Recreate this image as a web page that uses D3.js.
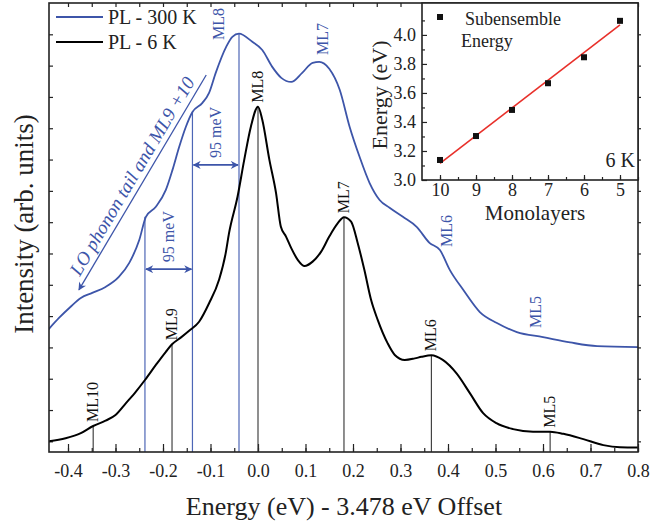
<!DOCTYPE html>
<html>
<head>
<meta charset="utf-8">
<script src="https://cdn.jsdelivr.net/npm/d3@7"></script>
<style>
  body { margin: 0; background: #fff; }
  svg { font-family: "Liberation Serif", "Times New Roman", serif; }
</style>
</head>
<body>
<div id="chart"></div>
<script>
// ---- data ----
var energy300 = [-0.442,-0.419,-0.395,-0.373,-0.349,-0.321,-0.293,-0.271,-0.250,-0.236,-0.215,-0.194,-0.180,-0.166,-0.152,-0.138,-0.117,-0.103,-0.089,-0.067,-0.054,-0.040,-0.012,0.009,0.030,0.049,0.070,0.093,0.115,0.129,0.150,0.172,0.193,0.214,0.235,0.256,0.277,0.305,0.334,0.361,0.383,0.404,0.432,0.467,0.503,0.545,0.600,0.657,0.714,0.800];
var pl300 = [3.56,3.94,4.29,4.58,4.74,4.93,5.25,5.70,6.43,7.17,7.49,8.03,8.67,9.40,10.04,10.52,10.81,11.13,11.77,12.60,12.92,13.02,12.76,12.50,11.96,11.61,11.48,11.77,12.09,12.12,11.90,11.23,10.04,9.08,8.25,7.71,7.46,7.17,6.85,6.34,6.11,5.47,4.84,4.13,3.78,3.49,3.33,3.16,3.04,3.01];

var energy6 = [-0.442,-0.405,-0.373,-0.347,-0.321,-0.300,-0.278,-0.257,-0.238,-0.215,-0.194,-0.181,-0.162,-0.145,-0.124,-0.103,-0.082,-0.068,-0.061,-0.043,-0.029,-0.015,0.000,0.009,0.024,0.038,0.048,0.059,0.070,0.084,0.098,0.115,0.133,0.150,0.168,0.181,0.196,0.210,0.224,0.238,0.252,0.273,0.288,0.309,0.330,0.344,0.365,0.389,0.418,0.446,0.474,0.502,0.537,0.579,0.615,0.643,0.685,0.727,0.762,0.800];
var pl6 = [0.00,0.10,0.26,0.49,0.66,0.84,1.22,1.59,1.96,2.44,2.86,3.10,3.32,3.53,3.82,4.41,5.16,6.01,6.65,7.82,8.99,10.05,10.69,10.27,8.99,7.93,6.86,6.54,6.17,5.79,5.60,5.74,6.06,6.54,6.97,7.16,7.02,6.33,5.47,4.52,3.88,3.13,2.76,2.60,2.65,2.70,2.75,2.60,2.17,1.54,0.90,0.58,0.39,0.31,0.31,0.24,0.07,-0.12,-0.19,-0.20];

// subensemble markers on the 6 K spectrum
var mlNames6 = ["ML10", "ML9", "ML8", "ML7", "ML6", "ML5"];
var mlEnergy6 = [-0.347, -0.181, 0.000, 0.181, 0.365, 0.615];
var mlPeak6 = [0.49, 3.10, 10.69, 7.16, 2.75, 0.31];

// labels on the 300 K spectrum
var mlNames300 = ["ML8", "ML7", "ML6", "ML5"];
var mlEnergy300 = [-0.082, 0.137, 0.398, 0.586];
var mlLevel300 = [12.82, 12.34, 6.21, 3.62];

// LO phonon replicas (300 K)
var loEnergy = [-0.238, -0.138, -0.040];
var loPeak = [7.17, 10.52, 13.02];
var loArrowLevel = [5.50, 8.83];
var loSpacingLabel = "95 meV";
var loTailLine = [[-0.109, 11.70], [-0.377, 4.84]];
var loTailLabel = "LO phonon tail and ML9 +10";

var xTicks = [-0.4,-0.3,-0.2,-0.1,0.0,0.1,0.2,0.3,0.4,0.5,0.6,0.7,0.8];
var yTicks = [0,1,2,3,4,5,6,7,8,9,10,11,12,13];

// inset
var monolayers = [10, 9, 8, 7, 6, 5];
var subEnergy = [3.138, 3.303, 3.483, 3.667, 3.846, 4.097];
var fitEnds = [[10, 3.115], [5, 4.07]];
var insetYTicks = [3.0, 3.2, 3.4, 3.6, 3.8, 4.0];

// ---- layout ----
var svgWidth = 657, svgHeight = 527;
var pLeft = 49, pRight = 638, pTop = 3, pBottom = 452;
var blue = "#3d55a9";
var blueThin = "#4d66b6";

var svg = d3.select("#chart").append("svg")
    .attr("width", svgWidth)
    .attr("height", svgHeight);

var defs = svg.append("defs");
defs.append("clipPath").attr("id", "clip")
  .append("rect").attr("x", pLeft).attr("y", pTop)
  .attr("width", pRight - pLeft).attr("height", pBottom - pTop);

defs.append("marker")
    .attr("id", "ahead")
    .attr("viewBox", "0 0 10 10")
    .attr("refX", 9).attr("refY", 5)
    .attr("markerWidth", 10).attr("markerHeight", 8)
    .attr("markerUnits", "userSpaceOnUse")
    .attr("orient", "auto-start-reverse")
  .append("path")
    .attr("d", "M0,0 L10,5 L0,10 L3,5 Z")
    .attr("fill", blue);

var x = d3.scaleLinear().domain([-0.44, 0.8]).range([pLeft, pRight]);
var y = d3.scaleLinear().domain([-0.34, 14]).range([pBottom, pTop]);

// axes (ticks inward, labels only on bottom)
var minorX = d3.range(-0.45, 0.81, 0.05).map(d => +d.toFixed(2)).filter(d => d >= -0.44);

svg.append("g")
    .attr("transform", `translate(0, ${pBottom})`)
    .call(d3.axisBottom(x).tickValues(minorX).tickSizeInner(-4).tickSizeOuter(0).tickFormat(""))
    .call(g => g.select(".domain").remove());

svg.append("g")
    .attr("transform", `translate(0, ${pBottom})`)
    .call(d3.axisBottom(x).tickValues(xTicks).tickSizeInner(-8).tickSizeOuter(0)
        .tickPadding(12).tickFormat(d => d.toFixed(1)))
    .call(g => g.select(".domain").remove())
    .selectAll("text")
    .attr("font-size", "18px")
    .attr("font-family", "Liberation Serif")
    .attr("fill", "#222");

svg.append("g")
    .attr("transform", `translate(0, ${pTop})`)
    .call(d3.axisTop(x).tickValues(minorX).tickSizeInner(-4).tickSizeOuter(0).tickFormat(""))
    .call(g => g.select(".domain").remove());

svg.append("g")
    .attr("transform", `translate(${pLeft}, 0)`)
    .call(d3.axisLeft(y).tickValues(yTicks).tickSizeInner(-4).tickSizeOuter(0).tickFormat(""))
    .call(g => g.select(".domain").remove());

svg.append("g")
    .attr("transform", `translate(${pRight}, 0)`)
    .call(d3.axisRight(y).tickValues(yTicks).tickSizeInner(3).tickSizeOuter(0).tickFormat(""))
    .call(g => g.select(".domain").remove());

svg.selectAll(".tick line").attr("stroke", "#222").attr("stroke-width", 1.2);

// axis titles
svg.append("text")
    .attr("x", 344).attr("y", 515)
    .attr("text-anchor", "middle")
    .attr("font-size", "26px")
    .attr("fill", "#222")
    .text("Energy (eV) - 3.478 eV Offset");

svg.append("text")
    .attr("transform", "translate(33, 224) rotate(-90)")
    .attr("text-anchor", "middle")
    .attr("font-size", "27px")
    .attr("fill", "#222")
    .text("Intensity (arb. units)");

var plot = svg.append("g").attr("clip-path", "url(#clip)");

// LO replica vertical lines
plot.selectAll(".lo")
    .data(loEnergy)
    .enter().append("line")
    .attr("x1", d => x(d)).attr("x2", d => x(d))
    .attr("y1", pBottom).attr("y2", (d, i) => y(loPeak[i]))
    .attr("stroke", blueThin).attr("stroke-width", 1.2);

// 6 K marker lines
plot.selectAll(".ml6")
    .data(mlEnergy6)
    .enter().append("line")
    .attr("x1", d => x(d)).attr("x2", d => x(d))
    .attr("y1", pBottom).attr("y2", (d, i) => y(mlPeak6[i]))
    .attr("stroke", "#333").attr("stroke-width", 1.1);

var line = d3.line()
    .x(d => x(d[0]))
    .y(d => y(d[1]))
    .curve(d3.curveMonotoneX);

plot.append("path")
    .datum(d3.zip(energy300, pl300))
    .attr("d", line)
    .attr("fill", "none")
    .attr("stroke", blue)
    .attr("stroke-width", 1.8);

plot.append("path")
    .datum(d3.zip(energy6, pl6))
    .attr("d", line)
    .attr("fill", "none")
    .attr("stroke", "#000")
    .attr("stroke-width", 2);

// 95 meV double arrows
loArrowLevel.forEach(function(lv, i) {
    svg.append("line")
        .attr("x1", x(loEnergy[i]) + 1).attr("x2", x(loEnergy[i + 1]) - 1)
        .attr("y1", y(lv)).attr("y2", y(lv))
        .attr("stroke", blue).attr("stroke-width", 1.6)
        .attr("marker-start", "url(#ahead)")
        .attr("marker-end", "url(#ahead)");
    var cx = (x(loEnergy[i]) + x(loEnergy[i + 1])) / 2 + 5;
    svg.append("text")
        .attr("transform", `translate(${cx}, ${y(lv) - 7}) rotate(-90)`)
        .attr("font-size", "16px")
        .attr("fill", blue)
        .text(loSpacingLabel);
});

// LO phonon tail arrow + label
svg.append("line")
    .attr("x1", x(loTailLine[0][0])).attr("y1", y(loTailLine[0][1]))
    .attr("x2", x(loTailLine[1][0])).attr("y2", y(loTailLine[1][1]))
    .attr("stroke", blue).attr("stroke-width", 1.3)
    .attr("marker-end", "url(#ahead)");

var tx0 = x(loTailLine[0][0]), ty0 = y(loTailLine[0][1]);
var tx1 = x(loTailLine[1][0]), ty1 = y(loTailLine[1][1]);
var ang = Math.atan2(ty0 - ty1, tx0 - tx1) * 180 / Math.PI;
svg.append("text")
    .attr("transform", `translate(${(tx0 + tx1) / 2 - 5}, ${(ty0 + ty1) / 2 - 3}) rotate(${ang})`)
    .attr("text-anchor", "middle")
    .attr("font-size", "19px")
    .attr("font-style", "italic")
    .attr("fill", blue)
    .text(loTailLabel);

// ML labels
svg.selectAll(".lab6")
    .data(mlNames6)
    .enter().append("text")
    .attr("transform", (d, i) => `translate(${x(mlEnergy6[i]) + 5}, ${y(mlPeak6[i]) - 4}) rotate(-90)`)
    .attr("font-size", "16px")
    .attr("fill", "#111")
    .text(d => d);

svg.selectAll(".lab300")
    .data(mlNames300)
    .enter().append("text")
    .attr("transform", (d, i) => `translate(${x(mlEnergy300[i]) + 5}, ${y(mlLevel300[i])}) rotate(-90)`)
    .attr("font-size", "16px")
    .attr("fill", blue)
    .text(d => d);

// legend
var legend = svg.append("g");
legend.append("line").attr("x1", 56).attr("x2", 103).attr("y1", 17).attr("y2", 17)
    .attr("stroke", blue).attr("stroke-width", 1.8);
legend.append("text").attr("x", 108).attr("y", 24).attr("font-size", "20px").attr("fill", "#222")
    .text("PL - 300 K");
legend.append("line").attr("x1", 56).attr("x2", 103).attr("y1", 42).attr("y2", 42)
    .attr("stroke", "#000").attr("stroke-width", 1.8);
legend.append("text").attr("x", 108).attr("y", 49).attr("font-size", "20px").attr("fill", "#222")
    .text("PL - 6 K");

// main frame
svg.append("rect")
    .attr("x", pLeft).attr("y", pTop)
    .attr("width", pRight - pLeft).attr("height", pBottom - pTop)
    .attr("fill", "none").attr("stroke", "#222").attr("stroke-width", 1.6);

// ---- inset ----
var iLeft = 422, iRight = pRight, iTop = pTop, iBottom = 180;
var ix = d3.scaleLinear().domain([10.5, 4.5]).range([iLeft, iRight]);
var iy = d3.scaleLinear().domain([3.0, 4.22]).range([iBottom, iTop]);

var inset = svg.append("g");
inset.append("rect")
    .attr("x", iLeft).attr("y", iTop)
    .attr("width", iRight - iLeft).attr("height", iBottom - iTop)
    .attr("fill", "#fff");

inset.append("g")
    .attr("transform", `translate(0, ${iBottom})`)
    .call(d3.axisBottom(ix).tickValues(d3.range(10, 4.4, -0.5)).tickSizeInner(-3).tickSizeOuter(0).tickFormat(""))
    .call(g => g.select(".domain").remove());
inset.append("g")
    .attr("transform", `translate(0, ${iBottom})`)
    .call(d3.axisBottom(ix).tickValues(monolayers).tickSizeInner(-5).tickSizeOuter(0).tickPadding(3).tickFormat(d3.format("d")))
    .call(g => g.select(".domain").remove())
    .selectAll("text").attr("font-size", "18px").attr("font-family", "Liberation Serif").attr("fill", "#222");

inset.append("g")
    .attr("transform", `translate(${iLeft}, 0)`)
    .call(d3.axisLeft(iy).tickValues(d3.range(3.1, 4.21, 0.2)).tickSizeInner(-3).tickSizeOuter(0).tickFormat(""))
    .call(g => g.select(".domain").remove());
inset.append("g")
    .attr("transform", `translate(${iLeft}, 0)`)
    .call(d3.axisLeft(iy).tickValues(insetYTicks).tickSizeInner(-5).tickSizeOuter(0).tickPadding(6).tickFormat(d3.format(".1f")))
    .call(g => g.select(".domain").remove())
    .selectAll("text").attr("font-size", "18px").attr("font-family", "Liberation Serif").attr("fill", "#222");

inset.selectAll(".tick line").attr("stroke", "#222").attr("stroke-width", 1.2);

inset.append("line")
    .attr("x1", ix(fitEnds[0][0])).attr("y1", iy(fitEnds[0][1]))
    .attr("x2", ix(fitEnds[1][0])).attr("y2", iy(fitEnds[1][1]))
    .attr("stroke", "#e8302a").attr("stroke-width", 1.6);

inset.selectAll(".pt")
    .data(monolayers)
    .enter().append("rect")
    .attr("x", d => ix(d) - 3).attr("y", (d, i) => iy(subEnergy[i]) - 3)
    .attr("width", 6).attr("height", 6)
    .attr("fill", "#111");

inset.append("rect").attr("x", 437).attr("y", 14).attr("width", 6).attr("height", 6).attr("fill", "#111");
inset.append("text").attr("x", 465).attr("y", 25).attr("font-size", "18px").attr("fill", "#222").text("Subensemble");
inset.append("text").attr("x", 461).attr("y", 47).attr("font-size", "18px").attr("fill", "#222").text("Energy");
inset.append("text").attr("x", 635).attr("y", 167).attr("text-anchor", "end").attr("font-size", "20px").attr("fill", "#222").text("6 K");

inset.append("text")
    .attr("x", (iLeft + iRight) / 2 + 5).attr("y", 220)
    .attr("text-anchor", "middle").attr("font-size", "21px").attr("fill", "#222")
    .text("Monolayers");
inset.append("text")
    .attr("transform", `translate(387, 95) rotate(-90)`)
    .attr("text-anchor", "middle").attr("font-size", "22px").attr("fill", "#222")
    .text("Energy (eV)");

inset.append("rect")
    .attr("x", iLeft).attr("y", iTop)
    .attr("width", iRight - iLeft).attr("height", iBottom - iTop)
    .attr("fill", "none").attr("stroke", "#222").attr("stroke-width", 1.6);
</script>
</body>
</html>
